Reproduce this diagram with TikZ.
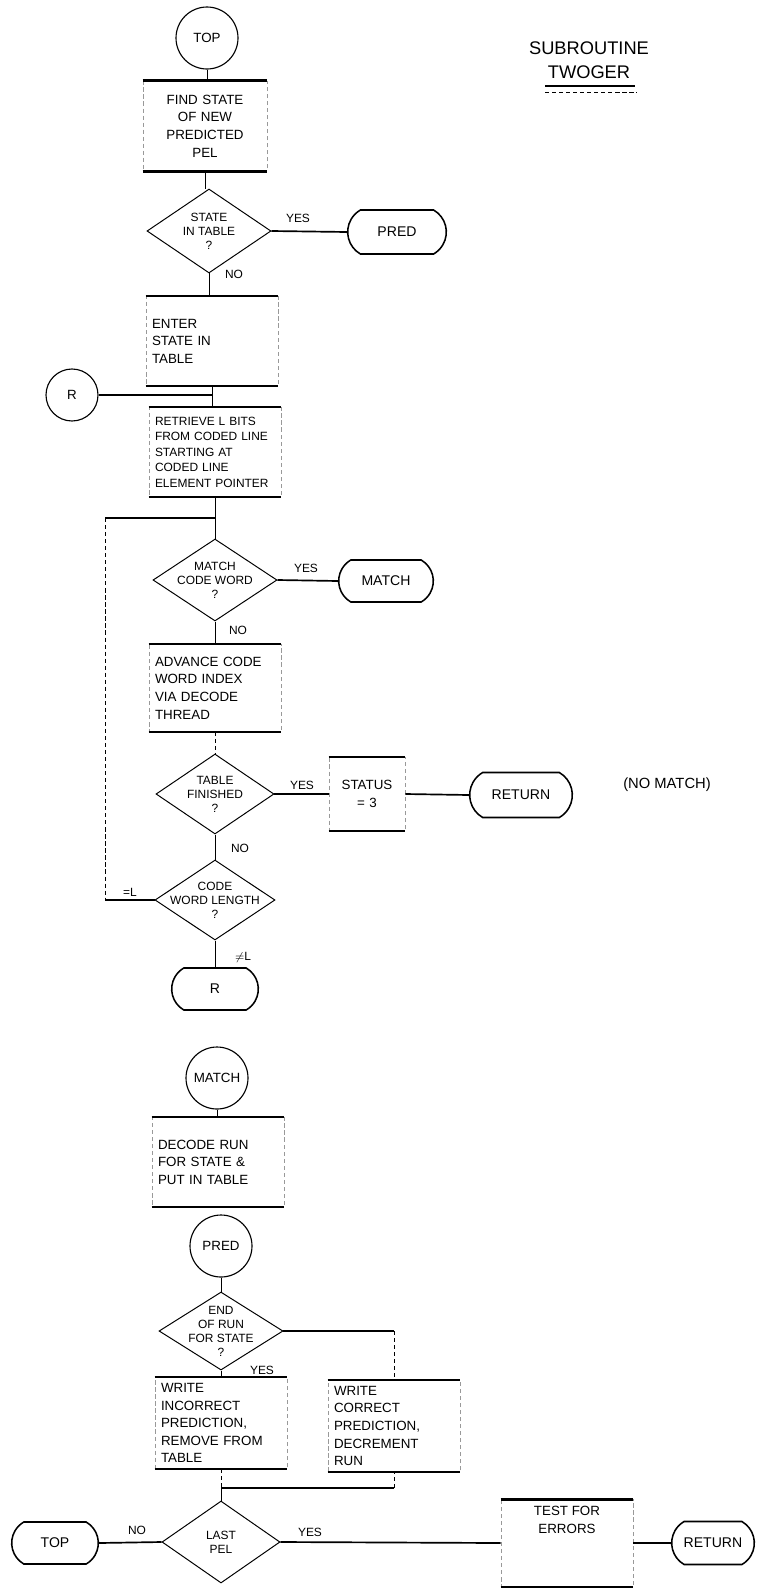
\documentclass[tikz,border=0pt]{standalone}
\usepackage{fontspec}
\setmainfont{Liberation Sans}
\usepackage{tikz}
\usetikzlibrary{positioning}
\usetikzlibrary{calc}
\usetikzlibrary{shapes.geometric,shapes.misc}

\begin{document}
\begin{tikzpicture}[
            x=0.25mm, y=-0.25mm,
            procbox/.style={rectangle,draw=black!40,densely dashed,line width=0.4pt,inner sep=1.5mm,text width=30mm,align=left,font=\fontsize{9.5}{12.5}\selectfont},
            boxrule/.style={line width=1.8pt,solid},
            decision/.style={diamond,draw,line width=0.7pt,aspect=1.5,inner sep=-1.5mm,align=center,font=\fontsize{8.5}{10}\selectfont},
            terminal/.style={rounded rectangle,rounded rectangle arc length=120,draw,line width=1.1pt,font=\fontsize{10}{12}\selectfont},
            connector/.style={circle,draw,line width=0.8pt,inner sep=0pt,font=\fontsize{9.5}{11}\selectfont},
            flow/.style={draw,line width=1.2pt},
            thinflow/.style={draw,line width=0.7pt},
            faint/.style={draw,line width=0.6pt,densely dashed},
            tag/.style={inner sep=1pt,font=\fontsize{8.5}{10}\selectfont},
        ]
            \useasboundingbox (0,0) rectangle (762,1589);

            %--- Title ---%
            \node[align=center,font=\fontsize{13}{17}\selectfont] (title) at (589,60) {SUBROUTINE\\TWOGER};
            \draw[boxrule] (545,86) -- (635,86);
            \draw[faint] (545,92) -- (637,92);

            %--- Nodes: search part ---%
            \node[connector,minimum size=15.5mm] (top) at (207,38) {TOP};
            \node[procbox,text width=28mm,align=center,minimum height=22.5mm] (find) at (205,126) {FIND STATE\\OF NEW\\PREDICTED\\PEL};
            \node[decision,minimum width=31mm,minimum height=21mm] (inTab) at (209,231) {STATE\\IN TABLE\\?};
            \node[terminal,minimum width=27mm,minimum height=11mm] (pred) at (397,232) {PRED};
            \node[procbox,minimum height=22.25mm] (enter) at (212,341) {ENTER\\STATE IN\\TABLE};
            \node[connector,minimum size=13mm] (rConn) at (72,395) {R};
            \node[procbox,minimum height=22.25mm,font=\fontsize{8.5}{11}\selectfont] (retr) at (215,452) {RETRIEVE L BITS\\FROM CODED LINE\\STARTING AT\\CODED LINE\\ELEMENT POINTER};
            \coordinate (jLoop) at (215,518);
            \coordinate (loopTop) at (105,518);
            \node[decision,minimum width=31mm,minimum height=20.5mm] (mWord) at (215,580) {MATCH\\CODE WORD\\?};
            \node[terminal,minimum width=26mm,minimum height=10.5mm] (matchT) at (386,581) {MATCH};
            \node[procbox,minimum height=21.75mm] (adv) at (215,688) {ADVANCE CODE\\WORD INDEX\\VIA DECODE\\THREAD};
            \node[decision,minimum width=29.5mm,minimum height=20mm] (tabFin) at (215,794) {TABLE\\FINISHED\\?};
            \node[procbox,text width=16mm,align=center,minimum height=18.25mm] (stat) at (367,794) {STATUS\\= 3};
            \node[terminal,minimum width=28mm,minimum height=11.25mm] (ret1) at (521,795) {RETURN};
            \node[tag,font=\fontsize{10.5}{12}\selectfont] (noMatch) at (667,785) {(NO MATCH)};
            \node[decision,minimum width=30mm,minimum height=20mm] (lenQ) at (215,900) {CODE\\WORD LENGTH\\?};
            \node[terminal,minimum width=24mm,minimum height=10.5mm] (rTerm) at (215,989) {R};

            %--- Nodes: match part ---%
            \node[connector,minimum size=15.5mm] (matchC) at (217,1078) {MATCH};
            \node[procbox,minimum height=22.25mm] (decRun) at (218,1162) {DECODE RUN\\FOR STATE \&\\PUT IN TABLE};
            \node[connector,minimum size=15.5mm] (predC) at (221,1246) {PRED};
            \node[decision,minimum width=31mm,minimum height=19.5mm] (endQ) at (221,1331) {END\\OF RUN\\FOR STATE\\?};
            \node[procbox,minimum height=21.75mm] (wrInc) at (221,1423) {WRITE\\INCORRECT\\PREDICTION,\\REMOVE FROM\\TABLE};
            \node[procbox,minimum height=22mm] (wrCor) at (394,1426) {WRITE\\CORRECT\\PREDICTION,\\DECREMENT\\RUN};
            \coordinate (jJoin) at (221,1488);
            \node[decision,minimum width=29.5mm,minimum height=20.5mm] (lastQ) at (221,1542) {LAST\\PEL};
            \node[terminal,minimum width=24mm,minimum height=10.5mm] (topT) at (55,1543) {TOP};
            \node[procbox,minimum height=21.75mm,
                  label={[name=errsTxt,anchor=north,yshift=-0.5mm,align=center,font=\fontsize{9.5}{12.5}\selectfont]north:TEST FOR\\ERRORS}] (errs) at (567,1543) {};
            \node[terminal,minimum width=23mm,minimum height=10.75mm] (ret2) at (713,1543) {RETURN};

            %--- Heavy top and bottom rules of the boxes ---%
            \foreach \b in {find,enter,retr,adv,stat,decRun,wrInc,wrCor,errs}
                \draw[boxrule] (\b.north west) -- (\b.north east) (\b.south west) -- (\b.south east);

            %--- Flow lines: search part ---%
            \draw[thinflow] (top.south) -- (top.south |- find.north);
            \draw[thinflow] (find.south) -- (find.south |- inTab.north);
            \draw[flow] (inTab.east) -- (pred.west);
            \draw[thinflow] (inTab.south) -- (inTab.south |- enter.north);
            \draw[thinflow] (enter.south) -- (enter.south |- retr.north);
            \draw[flow] (rConn.east) -- (rConn.east -| enter.south);
            \draw[thinflow] (retr.south) -- (retr.south |- mWord.north);
            \draw[flow] (loopTop) -- (jLoop);
            \draw[faint] (loopTop) -- (loopTop |- lenQ.west);
            \draw[flow] (loopTop |- lenQ.west) -- (lenQ.west);
            \draw[flow] (mWord.east) -- (matchT.west);
            \draw[thinflow] (mWord.south) -- (adv.north);
            \draw[faint] (adv.south) -- (tabFin.north);
            \draw[flow] (tabFin.east) -- (stat.west);
            \draw[flow] (stat.east) -- (ret1.west);
            \draw[thinflow] (tabFin.south) -- (lenQ.north);
            \draw[thinflow] (lenQ.south) -- (rTerm.north);

            %--- Flow lines: match part ---%
            \draw[thinflow] (matchC.south) -- (matchC.south |- decRun.north);
            \draw[thinflow] (predC.south) -- (endQ.north);
            \draw[thinflow] (endQ.south) -- (wrInc.north);
            \draw[flow] (endQ.east) -- (endQ.east -| wrCor.north);
            \draw[faint] (endQ.east -| wrCor.north) -- (wrCor.north);
            \draw[faint] (wrInc.south) -- (jJoin);
            \draw[flow] (jJoin) -- (jJoin -| wrCor.south);
            \draw[faint] (jJoin -| wrCor.south) -- (wrCor.south);
            \draw[thinflow] (jJoin) -- (lastQ.north);
            \draw[flow] (lastQ.west) -- (topT.east);
            \draw[flow] (lastQ.east) -- (errs.west);
            \draw[flow] (errs.east) -- (ret2.west);

            %--- Branch labels ---%
            \node[tag] (yesA) at (298,218) {YES};
            \node[tag] (noA) at (234,274) {NO};
            \node[tag] (yesB) at (306,568) {YES};
            \node[tag] (noB) at (238,630) {NO};
            \node[tag] (yesC) at (302,785) {YES};
            \node[tag] (noC) at (240,848) {NO};
            \node[tag] (eqL) at (130,892) {=L};
            \node[tag] (neqL) at (243,957) {$\neq$L};
            \node[tag] (yesD) at (262,1370) {YES};
            \node[tag] (noD) at (137,1530) {NO};
            \node[tag] (yesE) at (310,1532) {YES};

        \end{tikzpicture}
\end{document}
